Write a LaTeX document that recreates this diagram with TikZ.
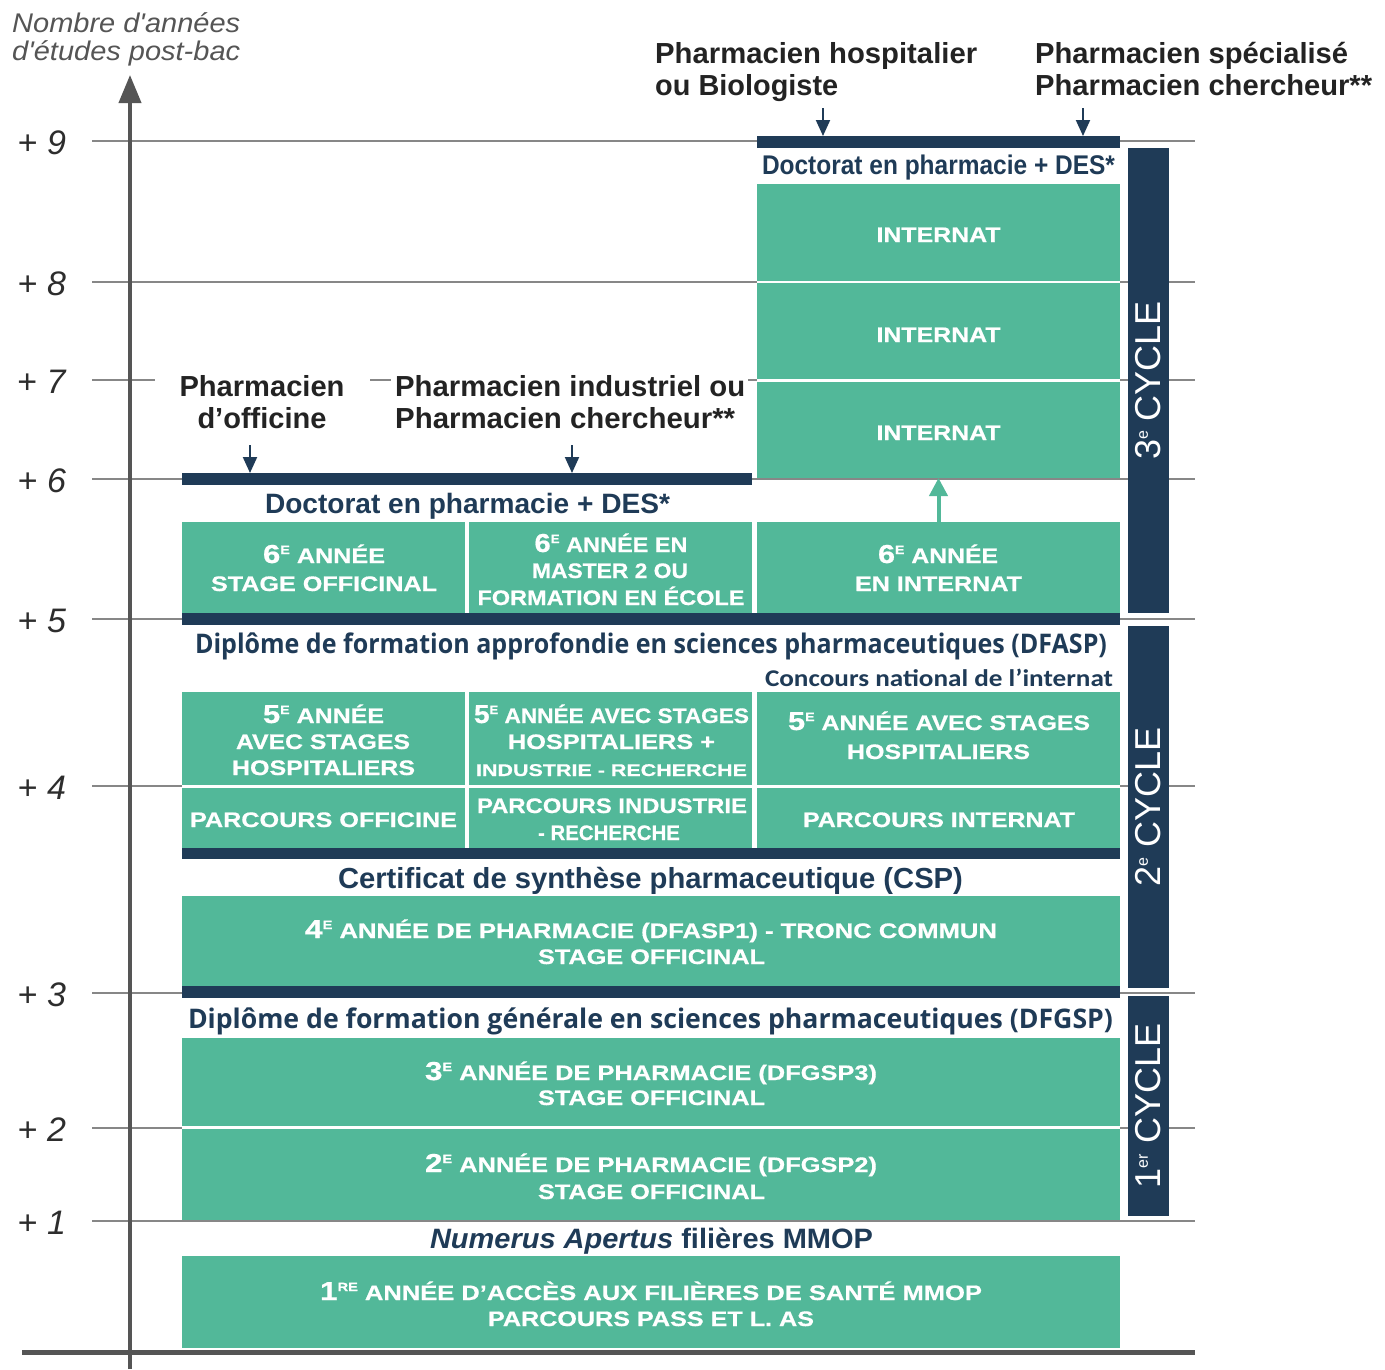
\documentclass[tikz,border=0pt]{standalone}
\usepackage{graphicx}
\usepackage{fontspec}
\setmainfont{Liberation Sans}
\newfontfamily\carl{Carlito}
\newfontfamily\osans{Open Sans}
\newfontfamily\heavy{Liberation Sans}[UprightFont={* Bold}, UprightFeatures={FakeBold=0.6}]
\usetikzlibrary{arrows.meta}
\definecolor{grn}{RGB}{82,184,153}
\definecolor{navy}{RGB}{31,59,87}
\definecolor{gridc}{RGB}{135,135,135}
\definecolor{axc}{RGB}{85,85,85}
\definecolor{ylc}{RGB}{45,45,45}
\definecolor{lbl}{RGB}{35,35,35}
\newsavebox\tmpbx
\newcommand\fw[2]{\sbox\tmpbx{#2}\pgfmathsetmacro\fwsc{#1/\the\wd\tmpbx}\scalebox{\fwsc}[1]{\usebox\tmpbx}}
\newcommand\bd[1]{{\fontsize{26}{26}\selectfont #1}}
\newcommand\se[1]{\raisebox{9pt}{\fontsize{12}{12}\selectfont #1}}
\newcommand\cell[6]{%
\pgfmathsetmacro\cxx{(#3+#5)/2}\pgfmathsetmacro\cyy{(#4+#6)/2}%
\pgfmathsetmacro\cww{#5-#3}\pgfmathsetmacro\chh{#6-#4}%
\node[#1, minimum width=\cww pt, minimum height=\chh pt] (#2) at (\cxx,\cyy) {};}
\newcommand\tl[5][]{\node[ctext,#1] (#2) at (#3) {\fw{#4}{#5}};}
\tikzset{
 cellbox/.style={rectangle, fill=grn, draw=none, inner sep=0pt, outer sep=0pt},
 navybar/.style={rectangle, fill=navy, draw=none, inner sep=0pt, outer sep=0pt},
 gridln/.style={draw=gridc, line width=1.8pt},
 ctext/.style={text=white, font=\heavy\fontsize{21}{21}\selectfont, inner sep=0pt, anchor=base},
 small/.style={font=\heavy\fontsize{17}{17}\selectfont},
 head/.style={text=navy, font=\bfseries\fontsize{28}{28}\selectfont, inner sep=0pt, anchor=base},
 lab/.style={text=lbl, font=\bfseries\fontsize{29}{29}\selectfont, inner sep=0pt, anchor=base},
 ylab/.style={text=ylc, font=\fontsize{34}{34}\selectfont, inner sep=0pt, anchor=base},
 axtitle/.style={text=axc, font=\itshape\fontsize{27}{27}\selectfont, inner sep=0pt, anchor=base west},
 cyc/.style={text=white, font=\fontsize{36}{36}\selectfont, inner sep=0pt, rotate=90},
 narr/.style={-{Triangle[length=16pt,width=14pt]}, draw=navy, line width=2pt},
 garr/.style={-{Triangle[length=18pt,width=18pt]}, draw=grn, line width=4pt},
 axisln/.style={-{Triangle[length=28pt,width=22pt]}, draw=axc, line width=4pt},
}
\begin{document}
\begin{tikzpicture}[x=1pt,y=-1pt]
\fill[white] (0,0) rectangle (1385,1369);
\useasboundingbox (0,0) rectangle (1385,1369);
% grid lines
\draw[gridln] (92,141) -- (1195,141);
\draw[gridln] (92,282) -- (757,282) (1120,282) -- (1195,282);
\draw[gridln] (92,380) -- (155,380) (370,380) -- (391,380) (748,380) -- (757,380) (1120,380) -- (1195,380);
\draw[gridln] (92,479) -- (1195,479);
\draw[gridln] (92,619) -- (1195,619);
\draw[gridln] (92,786) -- (182,786) (1120,786) -- (1195,786);
\draw[gridln] (92,993) -- (1195,993);
\draw[gridln] (92,1128) -- (182,1128) (1120,1128) -- (1195,1128);
\draw[gridln] (92,1221) -- (1195,1221);
\draw[draw=axc, line width=5pt] (22,1352) -- (1195,1352);
% boxes
\cell{cellbox}{in1}{757}{184}{1120}{281}
\cell{cellbox}{in2}{757}{283}{1120}{379}
\cell{cellbox}{in3}{757}{382}{1120}{478}
\cell{navybar}{barT}{757}{136}{1120}{148}
\cell{navybar}{barL}{182}{473}{752}{485}
\cell{cellbox}{c61}{182}{522}{465}{613}
\cell{cellbox}{c62}{469}{522}{752}{613}
\cell{cellbox}{c63}{757}{522}{1120}{613}
\cell{navybar}{bar5}{182}{613}{1120}{625}
\cell{cellbox}{c51}{182}{692}{465}{785}
\cell{cellbox}{c52}{469}{692}{752}{785}
\cell{cellbox}{c53}{757}{692}{1120}{785}
\cell{cellbox}{p1}{182}{788}{465}{848}
\cell{cellbox}{p2}{469}{788}{752}{848}
\cell{cellbox}{p3}{757}{788}{1120}{848}
\cell{navybar}{bar4}{182}{848}{1120}{859}
\cell{cellbox}{c4}{182}{896}{1120}{986}
\cell{navybar}{bar3}{182}{986}{1120}{998}
\cell{cellbox}{c3}{182}{1038}{1120}{1126}
\cell{cellbox}{c2}{182}{1129}{1120}{1220}
\cell{cellbox}{c1}{182}{1256}{1120}{1348}
\cell{navybar}{cy3}{1128}{148}{1169}{613}
\cell{navybar}{cy2}{1128}{626}{1169}{988}
\cell{navybar}{cy1}{1128}{996}{1169}{1216}
% axis
\coordinate (axb) at (130,1369);
\coordinate (axt) at (130,75);
\draw[axisln] (axb) -- (axt);
\node[axtitle] (tt1) at (12,32) {\fw{228}{Nombre d\textquotesingle années}};
\node[axtitle] (tt2) at (12,60) {\fw{228}{d\textquotesingle études post-bac}};
\node[ylab] (y9) at (42,154) {+ \textit{9}};
\node[ylab] (y8) at (42,295) {+ \textit{8}};
\node[ylab] (y7) at (42,393) {+ \textit{7}};
\node[ylab] (y6) at (42,492) {+ \textit{6}};
\node[ylab] (y5) at (42,632) {+ \textit{5}};
\node[ylab] (y4) at (42,799) {+ \textit{4}};
\node[ylab] (y3) at (42,1006) {+ \textit{3}};
\node[ylab] (y2) at (42,1141) {+ \textit{2}};
\node[ylab] (y1) at (42,1234) {+ \textit{1}};
% cycles
\node[cyc] (cy3t) at (cy3) {3\raisebox{13pt}{\fontsize{16}{16}\selectfont e} CYCLE};
\node[cyc] (cy2t) at (cy2) {2\raisebox{13pt}{\fontsize{16}{16}\selectfont e} CYCLE};
\node[cyc] (cy1t) at (cy1) {1\raisebox{13pt}{\fontsize{16}{16}\selectfont er} CYCLE};
% labels
\node[lab, anchor=base west] (lh1) at (655,63) {\fw{322}{Pharmacien hospitalier}};
\node[lab, anchor=base west] (lh2) at (655,95) {\fw{183}{ou Biologiste}};
\node[lab, anchor=base west] (ls1) at (1035,63) {\fw{313}{Pharmacien spécialisé}};
\node[lab, anchor=base west] (ls2) at (1035,95) {\fw{337}{Pharmacien chercheur**}};
\node[lab] (lo1) at (262,396) {\fw{165}{Pharmacien}};
\node[lab] (lo2) at (262,428) {\fw{129}{d’officine}};
\node[lab, anchor=base west] (li1) at (395,396) {\fw{350}{Pharmacien industriel ou}};
\node[lab, anchor=base west] (li2) at (395,428) {\fw{340}{Pharmacien chercheur**}};
\coordinate (ah1) at (823,108);
\coordinate (ah2) at (1083,108);
\coordinate (al1) at (250,445);
\coordinate (al2) at (572,445);
\draw[narr] (ah1) -- (ah1 |- barT.north);
\draw[narr] (ah2) -- (ah2 |- barT.north);
\draw[narr] (al1) -- (al1 |- barL.north);
\draw[narr] (al2) -- (al2 |- barL.north);
\draw[garr] (c63.north) -- (in3.south);
% headings
\node[head, font=\bfseries\fontsize{27}{27}\selectfont] (hdR) at (938.5,174) {\fw{353}{Doctorat en pharmacie + DES*}};
\node[head] (hdL) at (467.5,513) {\fw{405}{Doctorat en pharmacie + DES*}};
\node[head, font=\osans\bfseries\fontsize{27}{27}\selectfont] (hdA) at (651,653) {\fw{912}{Diplôme de formation approfondie en sciences pharmaceutiques (DFASP)}};
\node[head, font=\carl\bfseries\fontsize{24}{24}\selectfont] (hdC) at (939,686) {\fw{348}{Concours national de l’internat}};
\node[head, font=\bfseries\fontsize{29}{29}\selectfont] (hdS) at (650.5,888) {\fw{625}{Certificat de synthèse pharmaceutique (CSP)}};
\node[head, font=\osans\bfseries\fontsize{27}{27}\selectfont] (hdG) at (650.5,1028) {\fw{925}{Diplôme de formation générale en sciences pharmaceutiques (DFGSP)}};
\node[head] (hdN) at (651.5,1248) {\fw{443}{\textit{Numerus Apertus} filières MMOP}};
% cell texts
\tl{ti1}{938.5,242}{124}{INTERNAT}
\tl{ti2}{938.5,342}{124}{INTERNAT}
\tl{ti3}{938.5,440}{124}{INTERNAT}
\tl{t61a}{324,563}{122}{\bd{6}\se{E} ANNÉE}
\tl{t61b}{324,591}{226}{STAGE OFFICINAL}
\tl{t62a}{611,552}{153}{\bd{6}\se{E} ANNÉE EN}
\tl{t62b}{610,578}{156}{MASTER 2 OU}
\tl{t62c}{611,605}{267}{FORMATION EN ÉCOLE}
\tl{t63a}{938,563}{120}{\bd{6}\se{E} ANNÉE}
\tl{t63b}{938.5,591}{167}{EN INTERNAT}
\tl{t51a}{323.5,723}{121}{\bd{5}\se{E} ANNÉE}
\tl{t51b}{323,749}{174}{AVEC STAGES}
\tl{t51c}{323.5,775}{183}{HOSPITALIERS}
\tl{t52a}{611.5,723}{275}{\bd{5}\se{E} ANNÉE AVEC STAGES}
\tl{t52b}{611.5,749}{207}{HOSPITALIERS +}
\tl[small]{t52c}{611.5,776}{271}{INDUSTRIE - RECHERCHE}
\tl{t53a}{939,730}{302}{\bd{5}\se{E} ANNÉE AVEC STAGES}
\tl{t53b}{938.5,759}{183}{HOSPITALIERS}
\tl{tp1}{323.5,827}{267}{PARCOURS OFFICINE}
\tl{tp2a}{612,813}{270}{PARCOURS INDUSTRIE}
\tl{tp2b}{609,840}{142}{- RECHERCHE}
\tl{tp3}{939,827}{272}{PARCOURS INTERNAT}
\tl{t4a}{651,938}{692}{\bd{4}\se{E} ANNÉE DE PHARMACIE (DFASP1) - TRONC COMMUN}
\tl{t4b}{651.5,964}{227}{STAGE OFFICINAL}
\tl{t3a}{651,1080}{452}{\bd{3}\se{E} ANNÉE DE PHARMACIE (DFGSP3)}
\tl{t3b}{651.5,1105}{227}{STAGE OFFICINAL}
\tl{t2a}{651,1172}{452}{\bd{2}\se{E} ANNÉE DE PHARMACIE (DFGSP2)}
\tl{t2b}{651.5,1199}{227}{STAGE OFFICINAL}
\tl{t1a}{651,1300}{662}{\bd{1}\se{RE} ANNÉE D’ACCÈS AUX FILIÈRES DE SANTÉ MMOP}
\tl{t1b}{651,1326}{326}{PARCOURS PASS ET L. AS}
\end{tikzpicture}
\end{document}
